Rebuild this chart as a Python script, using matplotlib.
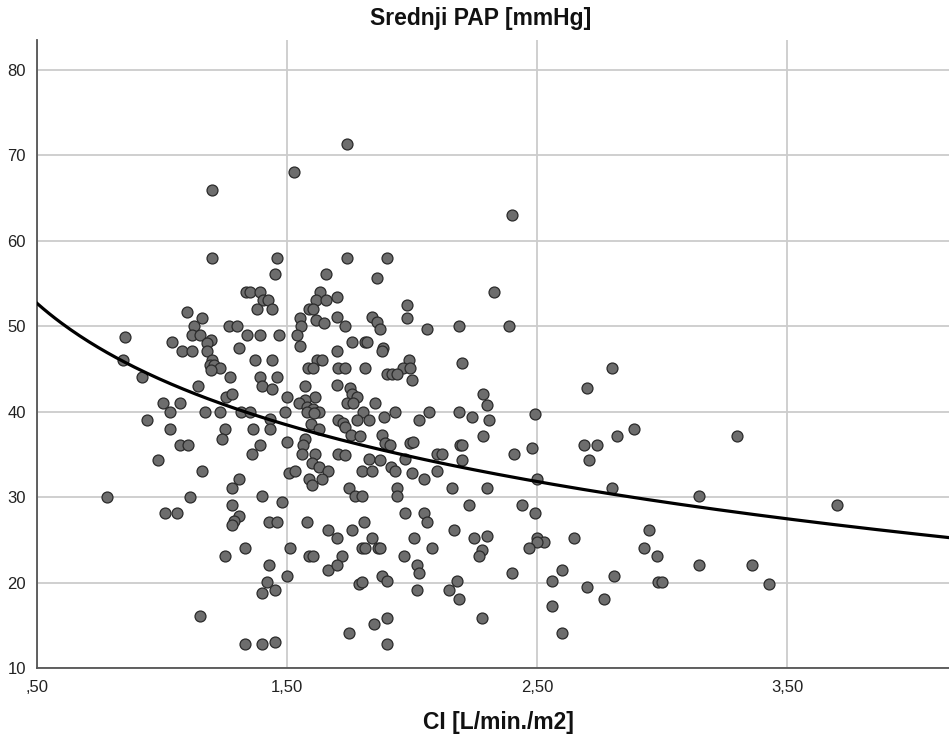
import numpy as np
import matplotlib.pyplot as plt

plt.rcParams['font.family'] = ['Liberation Sans', 'DejaVu Sans']

# CI [L/min./m2] and mean PAP [mmHg]
ci = [
    1.200, 1.529, 1.741, 2.400,
    1.200, 1.460, 1.452, 1.656, 1.335, 1.352, 1.391, 1.405, 1.423, 1.379, 1.441,
    1.631, 1.616, 1.657, 1.587, 1.603, 1.101, 1.160, 1.129, 1.121, 1.152,
    1.268, 1.300, 1.341, 1.391, 1.468, 1.552, 1.557, 1.539, 1.552, 1.617,
    1.649, 0.851, 1.041, 1.197, 1.179, 1.080, 1.121, 1.179, 1.309, 1.199,
    1.192, 1.209, 1.232, 1.197, 1.372, 1.441, 1.620, 1.640, 1.584, 1.603,
    0.844, 0.921, 1.272, 1.391, 1.460, 1.401, 1.441, 1.143, 1.571, 1.257,
    1.280, 1.500, 1.611, 1.573, 1.549, 1.003, 1.072, 1.033, 1.171, 1.231,
    1.317, 1.352, 1.491, 1.579, 1.603, 1.627, 1.579, 1.607, 0.939, 1.432,
    1.252, 1.363, 1.431, 1.033, 1.596, 1.627, 1.240, 1.500, 1.571, 1.565,
    1.072, 1.103, 1.391, 1.361, 1.560, 1.611, 0.983,
    1.741, 1.901, 1.861, 2.328, 1.699, 1.979, 1.979, 1.699, 1.732, 1.839,
    1.859, 1.872, 2.059, 2.189, 2.389, 1.759, 1.812, 1.821, 1.885, 1.879,
    1.699, 1.989, 1.965, 1.992, 1.999, 2.199, 1.705, 1.732, 1.812, 1.899,
    1.919, 1.939, 2.799, 2.699, 1.699, 1.752, 1.759, 1.779, 1.739, 1.763,
    1.852, 2.285, 2.299, 1.805, 1.932, 1.889, 2.069, 2.189, 2.239, 2.492,
    1.705, 1.725, 1.732, 1.781, 1.829, 2.029, 2.309, 1.756, 1.792, 1.879,
    1.892, 1.912, 1.992, 2.003, 2.285, 2.192, 2.199, 2.479, 2.409, 2.688,
    2.739, 2.819, 1.705, 1.732, 1.829, 2.099, 2.119, 2.709, 2.199, 1.872,
    1.972, 2.888, 3.299,
    1.160, 1.309, 1.280, 0.781, 1.112, 1.401, 1.481, 1.280, 1.011, 1.061,
    1.309, 1.289, 1.279, 1.428, 1.459, 1.580, 1.665, 1.599, 1.629, 1.663,
    1.507, 1.532, 1.589, 1.599, 1.640, 1.332, 1.252, 1.511, 1.589, 1.603,
    1.665, 1.429, 1.500, 1.421, 1.401, 1.452, 1.152, 1.332, 1.401, 1.452,
    1.799, 1.841, 1.915, 1.932, 1.999, 2.049, 2.099, 1.749, 1.772, 1.799,
    1.941, 1.941, 2.160, 2.299, 2.499, 2.800, 1.972, 2.049, 2.059, 2.229,
    2.439, 2.492, 1.808, 1.701, 1.759, 1.839, 1.799, 1.812, 1.865, 1.872,
    2.009, 2.080, 2.169, 2.248, 2.299, 2.279, 2.269, 2.499, 2.528, 2.499,
    2.469, 2.649, 1.969, 1.720, 1.701, 2.019, 2.029, 2.399, 2.599, 2.808,
    1.879, 1.899, 1.789, 1.799, 2.019, 2.149, 2.179, 2.189, 2.561, 2.699,
    2.768, 2.561, 2.279, 2.599, 1.899, 1.849, 1.749, 1.899,
    3.148, 3.699, 2.949, 2.928, 2.981, 3.148, 3.359, 2.985, 2.999, 3.429,
]
pap = [
    65.9, 68.0, 71.3, 63.0,
    58.0, 58.0, 56.1, 56.1, 54.0, 54.0, 54.0, 53.1, 53.1, 52.0, 52.0,
    54.0, 53.1, 53.1, 52.0, 52.0, 51.7, 51.0, 50.0, 49.0, 49.0,
    50.0, 50.0, 49.0, 49.0, 49.0, 51.0, 50.0, 49.0, 47.7, 50.7,
    50.4, 48.7, 48.1, 48.4, 48.0, 47.1, 47.1, 47.1, 47.4, 46.1,
    45.5, 45.5, 45.1, 44.9, 46.1, 46.1, 46.1, 46.1, 45.1, 45.1,
    46.0, 44.1, 44.1, 44.1, 44.1, 43.0, 42.7, 43.0, 43.0, 41.7,
    42.1, 41.7, 41.7, 41.4, 41.0, 41.0, 41.0, 40.0, 40.0, 40.0,
    40.0, 40.0, 40.0, 40.6, 40.3, 40.0, 40.0, 39.8, 39.0, 39.1,
    38.0, 38.0, 38.0, 38.0, 38.6, 38.0, 36.8, 36.5, 36.8, 36.1,
    36.1, 36.1, 36.1, 35.1, 35.1, 35.1, 34.3,
    58.0, 58.0, 55.7, 54.0, 53.4, 52.5, 51.0, 51.1, 50.0, 51.1,
    50.5, 49.7, 49.7, 50.0, 50.0, 48.1, 48.1, 48.1, 47.4, 47.1,
    47.1, 46.1, 45.1, 45.1, 43.7, 45.7, 45.1, 45.1, 45.1, 44.4,
    44.4, 44.4, 45.1, 42.8, 43.1, 42.8, 42.1, 41.7, 41.0, 41.0,
    41.0, 42.1, 40.8, 40.0, 40.0, 39.4, 40.0, 40.0, 39.4, 39.7,
    39.0, 38.7, 38.2, 39.0, 39.0, 39.0, 39.0, 37.3, 37.1, 37.3,
    36.3, 36.1, 36.3, 36.5, 37.1, 36.1, 36.1, 35.7, 35.1, 36.1,
    36.1, 37.1, 35.1, 34.9, 34.5, 35.1, 35.1, 34.3, 34.3, 34.3,
    34.5, 38.0, 37.1,
    33.1, 32.1, 31.1, 30.0, 30.0, 30.1, 29.4, 29.1, 28.1, 28.1,
    27.8, 27.2, 26.7, 27.1, 27.1, 27.1, 26.1, 34.0, 33.5, 33.1,
    32.8, 33.1, 32.1, 31.4, 32.1, 24.1, 23.1, 24.1, 23.1, 23.1,
    21.5, 22.1, 20.8, 20.1, 18.8, 19.1, 16.1, 12.8, 12.8, 13.1,
    33.1, 33.1, 33.5, 33.1, 32.8, 32.1, 33.1, 31.1, 30.1, 30.1,
    31.1, 30.1, 31.1, 31.1, 32.1, 31.1, 28.1, 28.1, 27.1, 29.1,
    29.1, 28.1, 27.1, 25.2, 26.1, 25.2, 24.1, 24.1, 24.1, 24.1,
    25.2, 24.1, 26.1, 25.2, 25.4, 23.8, 23.1, 25.2, 24.8, 24.8,
    24.1, 25.2, 23.1, 23.1, 22.1, 22.1, 21.1, 21.1, 21.5, 20.8,
    20.8, 20.2, 19.8, 20.1, 19.1, 19.1, 20.2, 18.1, 20.2, 19.5,
    18.1, 17.2, 15.8, 14.1, 15.8, 15.1, 14.1, 12.8,
    30.1, 29.1, 26.1, 24.1, 23.1, 22.1, 22.1, 20.1, 20.1, 19.8,
]

# logarithmic fit line, coefficients
fit_a = 43.7
fit_b = -12.96

x_ticks = [0.5, 1.5, 2.5, 3.5]
x_tick_labels = [',50', '1,50', '2,50', '3,50']
y_ticks = [10, 20, 30, 40, 50, 60, 70, 80]

fig = plt.figure(figsize=(9.49, 7.45), dpi=100)
ax = fig.add_axes([37 / 949, 1 - 668 / 745, 1 - 37 / 949, (668 - 40) / 745])

ax.scatter(ci, pap, s=62, facecolor='#6d6d6d', edgecolor='#2a2a2a',
           linewidth=0.9, zorder=3)

xs = np.linspace(0.5, 4.15, 300)
ax.plot(xs, fit_a + fit_b * np.log(xs), color='black', linewidth=2.3, zorder=4)

ax.set_xlim(0.5, 4.148)
ax.set_ylim(10, 83.5)
ax.set_xticks(x_ticks)
ax.set_xticklabels(x_tick_labels)
ax.set_yticks(y_ticks)
ax.tick_params(length=0, labelsize=12, colors='#222222')
ax.tick_params(axis='x', pad=9)
ax.tick_params(axis='y', pad=8)
ax.grid(True, color='#cccccc', linewidth=1.3, zorder=0)
ax.set_axisbelow(True)
for side in ['top', 'right']:
    ax.spines[side].set_visible(False)
for side in ['left', 'bottom']:
    ax.spines[side].set_color('#555555')
    ax.spines[side].set_linewidth(1.3)

fig.text(481 / 949, 1 - 19 / 745, 'Srednji PAP [mmHg]', ha='center', va='center',
         fontsize=16.5, fontweight='bold', color='#111111')
fig.text(498 / 949, 1 - 723 / 745, 'CI [L/min./m2]', ha='center', va='center',
         fontsize=16.5, fontweight='bold', color='#111111')

plt.savefig('out.png', dpi=100)
